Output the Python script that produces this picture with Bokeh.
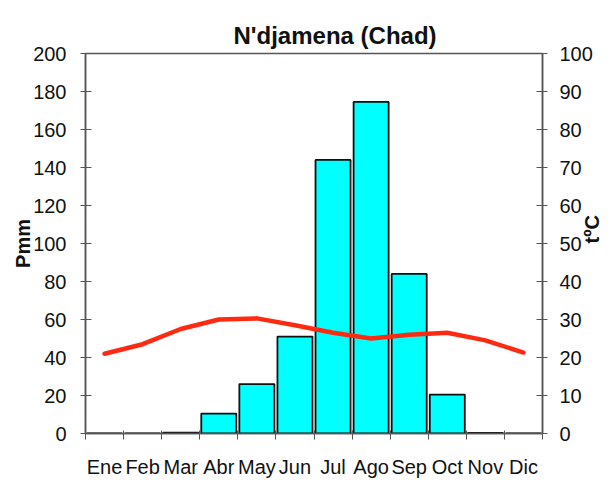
import math
from bokeh.plotting import figure
from bokeh.models import Range1d, LinearAxis, FixedTicker, ColumnDataSource
from bokeh.embed import file_html
from bokeh.resources import INLINE

title = "N'djamena (Chad)"
months = ["Ene", "Feb", "Mar", "Abr", "May", "Jun", "Jul", "Ago", "Sep", "Oct", "Nov", "Dic"]
precip = [0, 0, 0.5, 10.5, 26, 51, 144, 174.5, 84, 20.5, 0.3, 0]
temp = [21, 23.5, 27.5, 30, 30.3, 28.5, 26.5, 25, 26, 26.5, 24.5, 21.3]
p_ticks = [0, 20, 40, 60, 80, 100, 120, 140, 160, 180, 200]
t_ticks = [0, 10, 20, 30, 40, 50, 60, 70, 80, 90, 100]

xpos = [i + 0.5 for i in range(len(months))]
src = ColumnDataSource(dict(x=xpos, p=precip, t=temp, m=months))

FONT = "Liberation Sans"
AX = "#555555"

p = figure(width=616, height=482, output_backend="svg", toolbar_location=None,
           x_range=Range1d(0, 12), y_range=Range1d(0, 200),
           min_border_left=85, min_border_right=74, min_border_top=53, min_border_bottom=49,
           x_axis_location=None, y_axis_location=None)
p.extra_y_ranges = {"t": Range1d(0, 100)}
p.grid.visible = False
p.outline_line_color = AX
p.outline_line_width = 1.5
p.background_fill_color = "white"
p.border_fill_color = "white"

p.title.text = title
p.title.align = "left"
p.title.offset = 148
p.title.text_font = FONT
p.title.text_font_size = "24px"
p.title.text_font_style = "bold"
p.title.text_color = "#111111"

def style(ax):
    ax.axis_line_color = AX
    ax.axis_line_width = 1.5
    ax.major_tick_line_color = AX
    ax.major_tick_line_width = 1
    ax.major_tick_in = 6
    ax.major_tick_out = 5
    ax.minor_tick_line_color = None
    ax.major_label_text_font = FONT
    ax.major_label_text_font_size = "20px"
    ax.major_label_text_color = "#111111"
    ax.major_label_standoff = 12
    ax.axis_label_text_font = FONT
    ax.axis_label_text_font_size = "20px"
    ax.axis_label_text_font_style = "bold"
    ax.axis_label_text_color = "#111111"

# x axis: labels at month centers, ticks at month boundaries (minor ticks)
xa = LinearAxis(ticker=FixedTicker(ticks=xpos, minor_ticks=list(range(len(months) + 1))),
                major_label_overrides={x: m for x, m in zip(xpos, months)})
style(xa)
xa.major_tick_line_color = None
xa.minor_tick_line_color = AX
xa.minor_tick_line_width = 1
xa.minor_tick_in = 3
xa.minor_tick_out = 6
xa.major_label_standoff = 16
p.add_layout(xa, "below")

ya = LinearAxis(ticker=FixedTicker(ticks=p_ticks), axis_label="Pmm")
style(ya)
ya.major_label_standoff = 14
ya.axis_label_standoff = -4
p.add_layout(ya, "left")

yb = LinearAxis(y_range_name="t", ticker=FixedTicker(ticks=t_ticks), axis_label="tºC")
style(yb)
yb.axis_label_standoff = -4
yb.axis_label_orientation = math.pi / 2
p.add_layout(yb, "right")

p.vbar(x="x", top="p", bottom=0, width=0.92, source=src,
       fill_color="#00FFFF", line_color="#111111", line_width=1.8)
p.line(x="x", y="t", y_range_name="t", source=src,
       line_color="#FF2A12", line_width=4.5, line_join="round", line_cap="round")

open("out.html", "w").write(file_html(p, INLINE))
